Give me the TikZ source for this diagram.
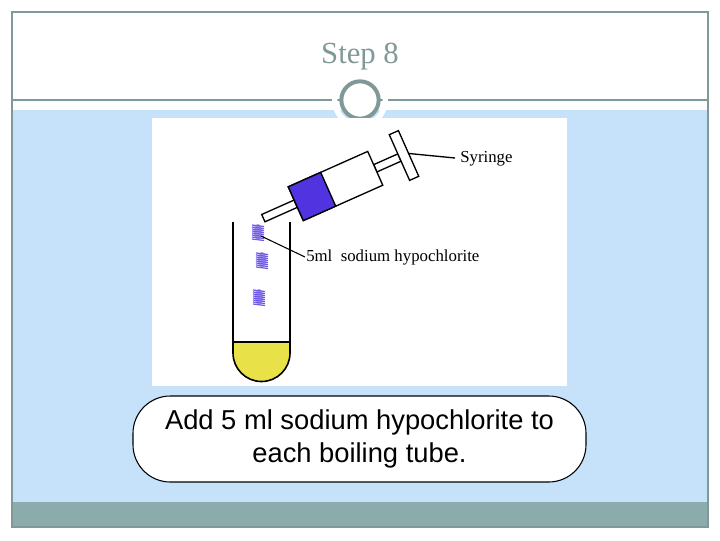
\documentclass[tikz,border=0pt]{standalone}
\usepackage{fontspec}
\setmainfont{Liberation Serif}
\newfontfamily\arialf{Liberation Sans}
\definecolor{bgblue}{RGB}{198,226,250}
\definecolor{grayteal}{RGB}{128,152,152}
\definecolor{barcol}{RGB}{140,172,172}
\definecolor{dropcol}{RGB}{110,90,230}
\definecolor{liq}{RGB}{232,226,72}
\begin{document}
\begin{tikzpicture}[x=0.75pt,y=-0.75pt,
  frame/.style={draw=grayteal, line width=0.8pt},
  part/.style={draw=black, line width=1pt, fill=white},
  lbl/.style={font=\fontsize{12.6}{14}\selectfont, anchor=west, inner sep=0pt},
  burst/.style={draw=dropcol, line width=0.9pt}]
\useasboundingbox (0,0) rectangle (720,540);
\fill[white] (0,0) rectangle (720,540);
\fill[bgblue] (12,110) rectangle (708,502);
\fill[barcol] (12,502) rectangle (708,527);
\draw[frame] (12,12) rectangle (708,527);
\draw[frame] (12,100) -- (708,100);
\node[circle, draw=white, line width=4pt, minimum size=38pt] (ringw) at (360,100) {};
\node[circle, fill=white, draw=grayteal, line width=3pt, minimum size=28pt] (ring) at (360,100) {};
\node[text=grayteal, font=\fontsize{23}{26}\selectfont] (title) at (360,57) {Step 8};
\fill[white] (152,118) rectangle (567,386);
% tube
\fill[liq] (233,342) -- (290,342) -- (290,353) arc[start angle=0,end angle=180,radius=28.5] -- cycle;
\draw[line width=1pt] (233,342) -- (290,342);
\draw[line width=1.2pt] (233,222) -- (233,353) arc[start angle=180,end angle=0,radius=28.5] -- (290,222);
% syringe
\begin{scope}[shift={(335.5,186)}, rotate=24]
\draw[part] (-79,-4) rectangle (-43.5,4);
\draw[part] (43.5,-4) rectangle (70,4);
\draw[part] (70,-25) rectangle (80,25);
\draw[part] (-43.5,-18.5) rectangle (43.5,18.5);
\draw[part, fill=blue!70!violet!80] (-43.5,-18.5) rectangle (-8,18.5);
\coordinate (hnd) at (80,0);
\end{scope}
\coordinate (synl) at (455,158);
\draw[line width=1pt] (hnd) -- (synl);
\node[lbl] (syr) at (460,159) {Syringe};
% drops
\foreach \x/\y [count=\i] in {258/232, 262/260, 259/297}{
  \fill[dropcol!60] (\x,\y) ellipse[x radius=4, y radius=8];
  \foreach \dy in {-7,-5,...,7}{
    \draw[burst] ({\x-6},{\y+\dy}) -- ({\x+6},{\y+\dy+1.5});
  }
  \coordinate (d\i) at (\x,\y);
}
\coordinate (hl) at (305,257);
\draw[line width=0.8pt] (d1) ++(3,4) -- (hl);
\node[lbl] (hyp) at (306,257) {5ml\ \ sodium hypochlorite};
% caption
\node[draw=black, fill=white, rounded corners=28pt, line width=0.8pt, minimum width=453*0.75pt, minimum height=86*0.75pt, align=center, font=\arialf\fontsize{20.5}{25}\selectfont] (cap) at (359.5,439) {\raisebox{-6pt}{}Add 5 ml sodium hypochlorite to\\each boiling tube.};
\end{tikzpicture}
\end{document}
